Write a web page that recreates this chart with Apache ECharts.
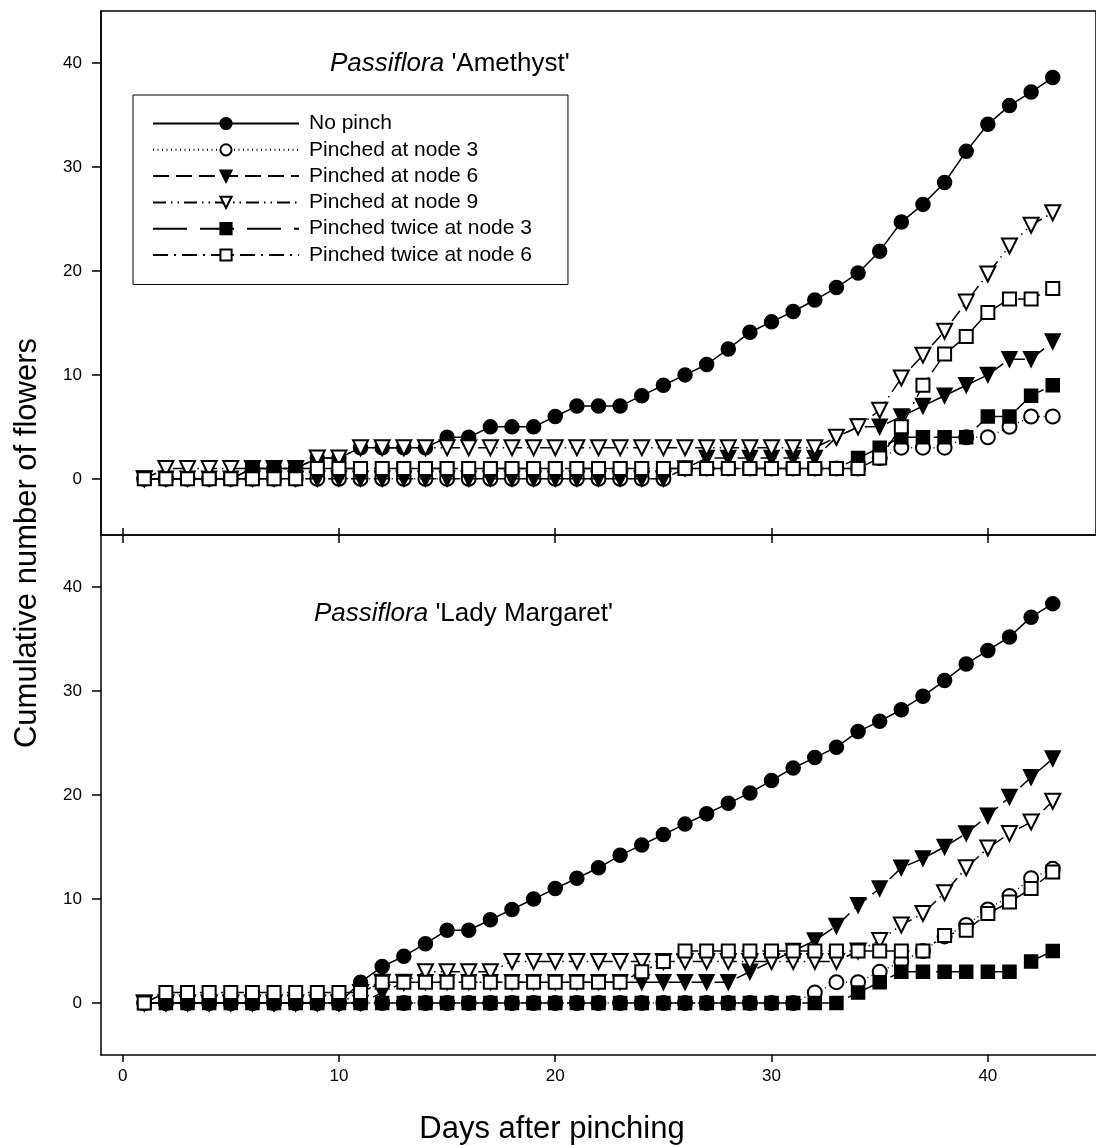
<!DOCTYPE html>
<html>
<head>
<meta charset="utf-8">
<script src="https://cdn.jsdelivr.net/npm/echarts@6/dist/echarts.min.js"></script>
<style>
html,body{margin:0;padding:0;background:#fff;}
#chart{width:1096px;height:1145px;}
</style>
</head>
<body>
<div id="chart"></div>
<script>
const days = [1,2,3,4,5,6,7,8,9,10,11,12,13,14,15,16,17,18,19,20,21,22,23,24,25,26,27,28,29,30,31,32,33,34,35,36,37,38,39,40,41,42,43];

const seriesNames = ['No pinch','Pinched at node 3','Pinched at node 6','Pinched at node 9','Pinched twice at node 3','Pinched twice at node 6'];

// Passiflora 'Amethyst'
const A_noPinch = [0,0,0,0,0,1,1,1,2,2,3,3,3,3,4,4,5,5,5,6,7,7,7,8,9,10,11,12.5,14.1,15.1,16.1,17.2,18.4,19.8,21.9,24.7,26.4,28.5,31.5,34.1,35.9,37.2,38.6];
const A_node3   = [0,0,0,0,0,0,0,0,0,0,0,0,0,0,0,0,0,0,0,0,0,0,0,0,0,1,1,1,1,1,1,1,1,1,2,3,3,3,4,4,5,6,6];
const A_node6   = [0,0,0,0,0,0,0,0,0,0,0,0,0,0,0,0,0,0,0,0,0,0,0,0,0,1,2,2,2,2,2,2,4,5,5,6,7,8,9,10,11.5,11.5,13.2];
const A_node9   = [0,1,1,1,1,1,1,1,2,2,3,3,3,3,3,3,3,3,3,3,3,3,3,3,3,3,3,3,3,3,3,3,4,5,6.6,9.7,11.9,14.2,17,19.7,22.4,24.4,25.6];
const A_twice3  = [0,0,0,0,0,1,1,1,1,1,1,1,1,1,1,1,1,1,1,1,1,1,1,1,1,1,1,1,1,1,1,1,1,2,3,4,4,4,4,6,6,8,9];
const A_twice6  = [0,0,0,0,0,0,0,0,1,1,1,1,1,1,1,1,1,1,1,1,1,1,1,1,1,1,1,1,1,1,1,1,1,1,2,5,9,12,13.7,16,17.3,17.3,18.3];

// Passiflora 'Lady Margaret'
const B_noPinch = [0,0,0,0,0,0,0,0,0,0,2,3.5,4.5,5.7,7,7,8,9,10,11,12,13,14.2,15.2,16.2,17.2,18.2,19.2,20.2,21.4,22.6,23.6,24.6,26.1,27.1,28.2,29.5,31,32.6,33.9,35.2,37.1,38.4];
const B_node3   = [0,0,0,0,0,0,0,0,0,0,0,0,0,0,0,0,0,0,0,0,0,0,0,0,0,0,0,0,0,0,0,1,2,2,3,4,5,6.4,7.5,9,10.3,12,12.9];
const B_node6   = [0,0,0,0,0,0,0,0,0,0,0,1,2,2,2,2,2,2,2,2,2,2,2,2,2,2,2,2,3,4,5,6,7.4,9.4,11,13,13.9,15,16.3,18,19.8,21.7,23.5];
const B_node9   = [0,0,0,0,0,0,0,0,0,0,1,2,2,3,3,3,3,4,4,4,4,4,4,4,4,4,4,4,4,4,4,4,4,5,6,7.5,8.6,10.6,13,14.9,16.3,17.4,19.4];
const B_twice3  = [0,0,0,0,0,0,0,0,0,0,0,0,0,0,0,0,0,0,0,0,0,0,0,0,0,0,0,0,0,0,0,0,0,1,2,3,3,3,3,3,3,4,5];
const B_twice6  = [0,1,1,1,1,1,1,1,1,1,1,2,2,2,2,2,2,2,2,2,2,2,2,3,4,5,5,5,5,5,5,5,5,5,5,5,5,6.5,7,8.6,9.7,11,12.6];

const xTicks = [0,10,20,30,40];
const yTicks = [0,10,20,30,40];

const FONT = '"Liberation Sans", Arial, Helvetica, sans-serif';

const styles = [
  {symbol:'circle', rotate:0, size:14, dash:'solid'},
  {symbol:'emptyCircle', rotate:0, size:14, dash:[1,3.5]},
  {symbol:'triangle', rotate:180, size:15, dash:[16,7]},
  {symbol:'emptyTriangle', rotate:180, size:15, dash:[13,5,1.5,5,1.5,5]},
  {symbol:'rect', rotate:0, size:13, dash:[34,13]},
  {symbol:'emptyRect', rotate:0, size:13, dash:[15,6,2,6]}
];

const panelA = [A_noPinch, A_node3, A_node6, A_node9, A_twice3, A_twice6];
const panelB = [B_noPinch, B_node3, B_node6, B_node9, B_twice3, B_twice6];

function makeSeries(values, idx, panel) {
  const s = styles[idx];
  return {
    type: 'line',
    name: seriesNames[idx],
    xAxisIndex: panel === 0 ? 0 : 2,
    yAxisIndex: panel,
    data: days.map((d, i) => [d, values[i]]),
    symbol: s.symbol,
    symbolRotate: s.rotate,
    symbolSize: s.size,
    showAllSymbol: true,
    lineStyle: {color:'#000', width:1.5, type: s.dash},
    itemStyle: {color:'#000', borderColor:'#000', borderWidth:1.5},
    emphasis: {disabled:true},
    z: 2 + idx,
    animation: false
  };
}

const series = [];
panelA.forEach((v, i) => series.push(makeSeries(v, i, 0)));
panelB.forEach((v, i) => series.push(makeSeries(v, i, 1)));

const axisLineStyle = {show:true, onZero:false, lineStyle:{color:'#000', width:1.5}};
const tickLabelStyle = {color:'#000', fontSize:17, fontFamily:FONT};

const option = {
  backgroundColor: '#fff',
  animation: false,
  grid: [
    {left:101, top:11, width:1007, height:524, show:true, borderColor:'#000', borderWidth:1.5, backgroundColor:'transparent'},
    {left:101, top:535, width:1007, height:520}
  ],
  xAxis: [
    {type:'value', gridIndex:0, min:-1, max:45, position:'bottom',
      axisLine: axisLineStyle,
      axisTick:{show:true, inside:false, length:8, customValues:xTicks, lineStyle:{color:'#000', width:1.5}},
      axisLabel:{show:false}, splitLine:{show:false}},
    {type:'value', gridIndex:0, min:-1, max:45, position:'bottom',
      axisLine:{show:false, onZero:false},
      axisTick:{show:true, inside:true, length:7, customValues:xTicks, lineStyle:{color:'#000', width:1.5}},
      axisLabel:{show:false}, splitLine:{show:false}},
    {type:'value', gridIndex:1, min:-1, max:45, position:'bottom',
      axisLine: axisLineStyle,
      axisTick:{show:true, inside:false, length:7, customValues:xTicks, lineStyle:{color:'#000', width:1.5}},
      axisLabel:Object.assign({show:true, margin:13, customValues:xTicks}, tickLabelStyle),
      splitLine:{show:false}}
  ],
  yAxis: [
    {type:'value', gridIndex:0, min:-5.4, max:45, position:'left',
      axisLine: axisLineStyle,
      axisTick:{show:true, inside:false, length:9, customValues:yTicks, lineStyle:{color:'#000', width:1.5}},
      axisLabel:Object.assign({show:true, margin:19, customValues:yTicks}, tickLabelStyle),
      splitLine:{show:false}},
    {type:'value', gridIndex:1, min:-5, max:45, position:'left',
      axisLine: axisLineStyle,
      axisTick:{show:true, inside:false, length:9, customValues:yTicks, lineStyle:{color:'#000', width:1.5}},
      axisLabel:Object.assign({show:true, margin:19, customValues:yTicks}, tickLabelStyle),
      splitLine:{show:false}}
  ],
  title: [
    {text:"{i|Passiflora} 'Amethyst'", left:330, top:51, padding:0,
      textStyle:{fontSize:26, fontWeight:'normal', color:'#000', fontFamily:FONT,
        rich:{i:{fontStyle:'italic', fontSize:26, fontFamily:FONT, color:'#000'}}}},
    {text:"{i|Passiflora} 'Lady Margaret'", left:314, top:601, padding:0,
      textStyle:{fontSize:26, fontWeight:'normal', color:'#000', fontFamily:FONT,
        rich:{i:{fontStyle:'italic', fontSize:26, fontFamily:FONT, color:'#000'}}}}
  ],
  legend: {
    data: seriesNames,
    orient: 'vertical',
    left: 133, top: 95,
    padding: [18, 36, 19, 19],
    itemWidth: 146, itemHeight: 14, itemGap: 5.3,
    borderColor: '#000', borderWidth: 1,
    selectedMode: false,
    textStyle: {fontSize:21, color:'#000', fontFamily:FONT, lineHeight:21, padding:[0,0,0,5]}
  },
  graphic: [
    {type:'text', x:27, y:543, rotation:Math.PI/2,
      style:{text:'Cumulative number of flowers', font:'31px ' + FONT, fill:'#000', textAlign:'center', textVerticalAlign:'middle'}},
    {type:'text', x:552, y:1129,
      style:{text:'Days after pinching', font:'31px ' + FONT, fill:'#000', textAlign:'center', textVerticalAlign:'middle'}}
  ],
  series: series
};

const chart = echarts.init(document.getElementById('chart'), null, {renderer:'canvas'});
chart.setOption(option);
</script>
</body>
</html>
